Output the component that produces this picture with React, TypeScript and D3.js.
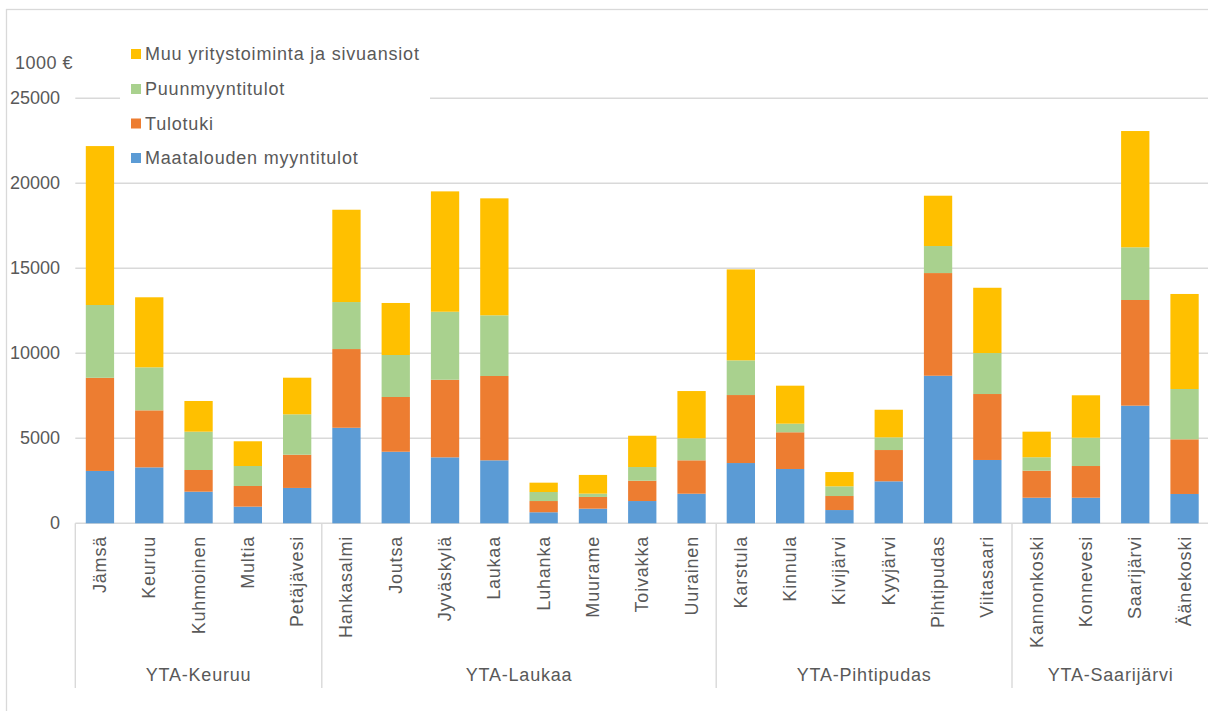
import React from "react";
import * as d3 from "d3";

const categories = [
  "Jämsä", "Keuruu", "Kuhmoinen", "Multia", "Petäjävesi",
  "Hankasalmi", "Joutsa", "Jyväskylä", "Laukaa", "Luhanka", "Muurame", "Toivakka", "Uurainen",
  "Karstula", "Kinnula", "Kivijärvi", "Kyyjärvi", "Pihtipudas", "Viitasaari",
  "Kannonkoski", "Konnevesi", "Saarijärvi", "Äänekoski",
];
const groupNames = ["YTA-Keuruu", "YTA-Laukaa", "YTA-Pihtipudas", "YTA-Saarijärvi"];
const groupSizes = [5, 8, 6, 4];

const maatalous = [3080, 3290, 1860, 980, 2080, 5620, 4210, 3880, 3705, 650, 860, 1310, 1740, 3545, 3195, 780, 2470, 8680, 3725, 1505, 1505, 6920, 1725];
const tulotuki = [5480, 3355, 1275, 1215, 1955, 4630, 3220, 4565, 4960, 660, 690, 1195, 1965, 4000, 2160, 825, 1840, 6040, 3880, 1590, 1865, 6215, 3215];
const puunmyynti = [4280, 2530, 2255, 1175, 2375, 2765, 2470, 4000, 3570, 530, 195, 805, 1295, 2040, 505, 570, 745, 1590, 2410, 790, 1665, 3100, 2960];
const muu = [9350, 4120, 1805, 1455, 2155, 5430, 3060, 7080, 6880, 550, 1100, 1840, 2780, 5350, 2235, 840, 1625, 2960, 3840, 1505, 2495, 6840, 5590];

const seriesNames = ["Maatalouden myyntitulot", "Tulotuki", "Puunmyyntitulot", "Muu yritystoiminta ja sivuansiot"];
const seriesColors = ["#5B9BD5", "#ED7D31", "#A9D18E", "#FFC000"];
const yTicks = [0, 5000, 10000, 15000, 20000, 25000];

const W = 1208, H = 711;
const FONT = "'Liberation Sans', Arial, sans-serif";
const TXT = "#595959";
const FS = 18;
const LS = 0.8;

export default function App() {
  const keys = ["m", "t", "p", "u"];
  const rows = categories.map((c, i) => ({ c, m: maatalous[i], t: tulotuki[i], p: puunmyynti[i], u: muu[i] }));
  const stacked = d3.stack<any>().keys(keys)(rows);

  const x0 = 75.3, step = 49.3;
  const x = d3.scaleBand<string>().domain(categories).range([x0, x0 + step * categories.length]).paddingInner(0.426).paddingOuter(0.213);
  const y = d3.scaleLinear().domain([0, 25000]).range([523.3, 98.3]);

  const axisBottom = 688;
  const boundaries: number[] = [];
  const groupCenters: number[] = [];
  let idx = 0;
  groupSizes.forEach((s) => {
    const start = x0 + x.step() * idx;
    boundaries.push(start);
    groupCenters.push(start + (x.step() * s) / 2);
    idx += s;
  });

  const legendOrder = [3, 2, 1, 0];
  const legendY = [54, 89, 123.5, 158];

  return (
    <svg width={W} height={H} style={{ position: "absolute", left: 0, top: 0, display: "block", background: "#fff" }} fontFamily={FONT}>
      <rect x={6.5} y={9.5} width={1400} height={900} fill="#fff" stroke="#d9d9d9" strokeWidth={1.3} />
      {yTicks.map((t) => (
        <g key={t}>
          <line x1={x0} x2={W + 10} y1={y(t)} y2={y(t)} stroke="#d9d9d9" strokeWidth={1.4} />
          <text x={60} y={y(t)} textAnchor="end" dominantBaseline="central" fontSize={FS} fill={TXT}>{t}</text>
        </g>
      ))}
      <text x={15} y={63} dominantBaseline="central" fontSize={FS} fill={TXT} letterSpacing={0.5}>1000 €</text>
      {boundaries.map((b, i) => (
        <line key={i} x1={b} x2={b} y1={y(0)} y2={axisBottom} stroke="#d9d9d9" strokeWidth={1.4} />
      ))}
      {stacked.map((s, si) => (
        <g key={si} fill={seriesColors[si]}>
          {s.map((d: any, i: number) => (
            <rect key={i} x={x(categories[i])} y={y(d[1])} width={x.bandwidth()} height={y(d[0]) - y(d[1])} />
          ))}
        </g>
      ))}
      {categories.map((c) => (
        <text key={c} transform={`translate(${(x(c) as number) + x.bandwidth() / 2},536) rotate(-90)`} textAnchor="end" dominantBaseline="central" fontSize={FS} fill={TXT} letterSpacing={LS}>{c}</text>
      ))}
      {groupNames.map((g, i) => (
        <text key={g} x={groupCenters[i]} y={675} textAnchor="middle" dominantBaseline="central" fontSize={FS} fill={TXT} letterSpacing={LS}>{g}</text>
      ))}
      <rect x={120} y={36} width={310} height={140} fill="#fff" />
      {legendOrder.map((si, k) => (
        <g key={si}>
          <rect x={131} y={legendY[k] - 5} width={10} height={10} fill={seriesColors[si]} />
          <text x={145} y={legendY[k]} dominantBaseline="central" fontSize={FS} fill={TXT} letterSpacing={LS}>{seriesNames[si]}</text>
        </g>
      ))}
    </svg>
  );
}
